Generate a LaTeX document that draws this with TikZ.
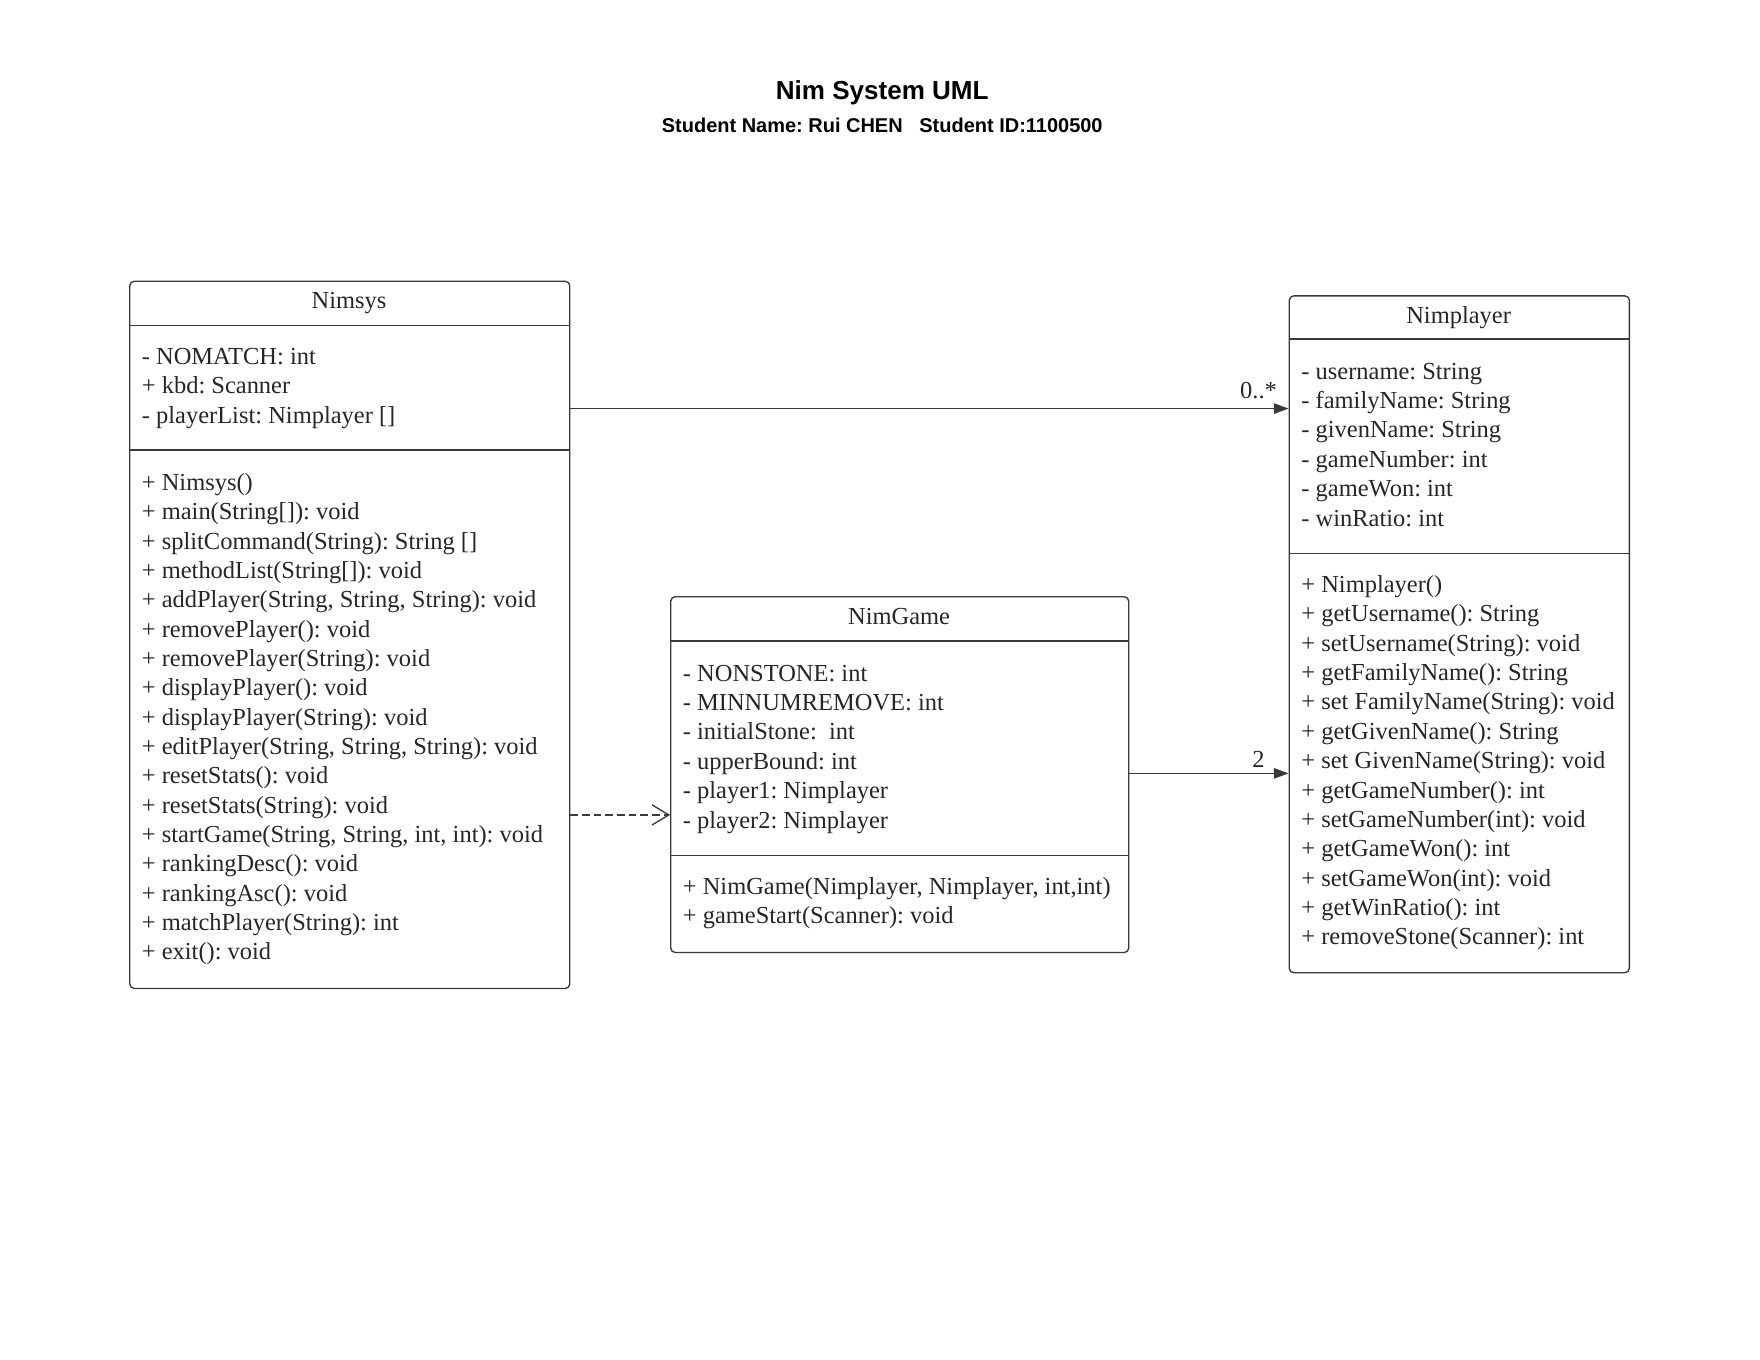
\documentclass[tikz,border=0pt]{standalone}
\usepackage{fontspec}
\setmainfont{Liberation Serif}
\newfontfamily\titlefont{Liberation Sans}
\usetikzlibrary{arrows.meta}
\definecolor{linec}{HTML}{3A3A3A}
\definecolor{textc}{HTML}{262626}
\frenchspacing
\begin{document}
\begin{tikzpicture}[x=0.5pt,y=-0.5pt,
  classbox/.style={draw=linec, line width=0.6pt, rounded corners=2pt, anchor=north west, inner sep=0pt},
  sepline/.style={draw=linec, line width=0.6pt},
  member/.style={anchor=base west, inner sep=0pt, font=\fontsize{10.9}{13}\selectfont, text=textc},
  cname/.style={anchor=base, inner sep=0pt, font=\fontsize{10.9}{13}\selectfont, text=textc},
  mult/.style={anchor=base east, inner sep=0pt, font=\fontsize{10.9}{13}\selectfont, text=textc},
  assoc/.style={draw=linec, line width=0.6pt, -{Triangle[length=6.5pt,width=4.6pt]}},
  depend/.style={draw=linec, line width=0.6pt, dash pattern=on 3.3pt off 1.9pt, -{Straight Barb[length=7.5pt,width=9pt]}},
  titletext/.style={anchor=base, inner sep=0pt, font=\titlefont\bfseries\fontsize{11.6}{13}\selectfont, text=black},
  subtext/.style={anchor=base, inner sep=0pt, font=\titlefont\bfseries\fontsize{8.9}{11}\selectfont, text=black}
]
\useasboundingbox (0,0) rectangle (1568,1211.6);

% titles
\node[titletext] (title) at (786,88.5) {Nim System UML};
\node[subtext] (subtitle) at (786,118.2) {Student Name: Rui CHEN\ \ \ Student ID:1100500};

% ---------- Nimsys ----------
\node[classbox, minimum width=196pt, minimum height=315pt] (nimsys) at (115,250) {};
\draw[sepline] (nimsys.west |- 0,290) -- (nimsys.east |- 0,290);
\draw[sepline] (nimsys.west |- 0,401) -- (nimsys.east |- 0,401);
\node[cname] (nimsysname) at (311,274.8) {Nimsys};
\foreach \t [count=\i from 0] in {{- NOMATCH: int},{+ kbd: Scanner},{- playerList: Nimplayer []}}
  \node[member] (nimsysa\i) at (126,324.8+26.1*\i) {\t};
\foreach \t [count=\i from 0] in {
  {+ Nimsys()},
  {+ main(String[]): void},
  {+ splitCommand(String): String []},
  {+ methodList(String[]): void},
  {+ addPlayer(String, String, String): void},
  {+ removePlayer(): void},
  {+ removePlayer(String): void},
  {+ displayPlayer(): void},
  {+ displayPlayer(String): void},
  {+ editPlayer(String, String, String): void},
  {+ resetStats(): void},
  {+ resetStats(String): void},
  {+ startGame(String, String, int, int): void},
  {+ rankingDesc(): void},
  {+ rankingAsc(): void},
  {+ matchPlayer(String): int},
  {+ exit(): void}}
  \node[member] (nimsysm\i) at (126,437+26.125*\i) {\t};

% ---------- NimGame ----------
\node[classbox, minimum width=204pt, minimum height=158.5pt] (nimgame) at (597,531) {};
\draw[sepline] (nimgame.west |- 0,571) -- (nimgame.east |- 0,571);
\draw[sepline] (nimgame.west |- 0,762) -- (nimgame.east |- 0,762);
\node[cname] (nimgamename) at (801,556.8) {NimGame};
\foreach \t [count=\i from 0] in {
  {- NONSTONE: int},
  {- MINNUMREMOVE: int},
  {- initialStone:\ \ int},
  {- upperBound: int},
  {- player1: Nimplayer},
  {- player2: Nimplayer}}
  \node[member] (nimgamea\i) at (608,606.8+26.2*\i) {\t};
\foreach \t [count=\i from 0] in {
  {+ NimGame(Nimplayer, Nimplayer, int,int)},
  {+ gameStart(Scanner): void}}
  \node[member] (nimgamem\i) at (608,796.8+26.2*\i) {\t};

% ---------- Nimplayer ----------
\node[classbox, minimum width=151.5pt, minimum height=301.5pt] (nimplayer) at (1148,263) {};
\draw[sepline] (nimplayer.west |- 0,302) -- (nimplayer.east |- 0,302);
\draw[sepline] (nimplayer.west |- 0,493) -- (nimplayer.east |- 0,493);
\node[cname] (nimplayername) at (1299.5,287.8) {Nimplayer};
\foreach \t [count=\i from 0] in {
  {- username: String},
  {- familyName: String},
  {- givenName: String},
  {- gameNumber: int},
  {- gameWon: int},
  {- winRatio: int}}
  \node[member] (nimplayera\i) at (1159,337.8+26.2*\i) {\t};
\foreach \t [count=\i from 0] in {
  {+ Nimplayer()},
  {+ getUsername(): String},
  {+ setUsername(String): void},
  {+ getFamilyName(): String},
  {+ set FamilyName(String): void},
  {+ getGivenName(): String},
  {+ set GivenName(String): void},
  {+ getGameNumber(): int},
  {+ setGameNumber(int): void},
  {+ getGameWon(): int},
  {+ setGameWon(int): void},
  {+ getWinRatio(): int},
  {+ removeStone(Scanner): int}}
  \node[member] (nimplayerm\i) at (1159,527.8+26.17*\i) {\t};

% ---------- connectors ----------
\draw[assoc] (nimsys.east |- 0,364) -- (nimplayer.west |- 0,364);
\node[mult] (multa) at (1138,355) {0..*};
\draw[depend] (nimsys.east |- 0,726) -- (nimgame.west |- 0,726);
\draw[assoc] (nimgame.east |- 0,689) -- (nimplayer.west |- 0,689);
\node[mult] (multb) at (1127,684) {2};
\end{tikzpicture}
\end{document}
